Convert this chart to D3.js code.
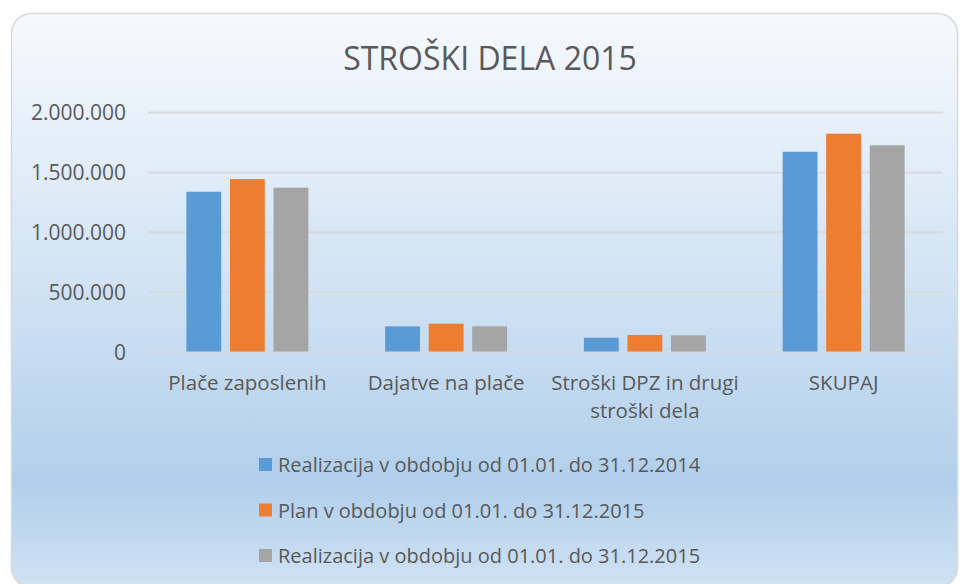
<!DOCTYPE html>
<html>
<head>
<meta charset="utf-8">
<script src="https://cdn.jsdelivr.net/npm/d3@7"></script>
<style>
  body { margin: 0; background: #fff; }
  text { font-family: "Open Sans", sans-serif; fill: #595959; }
</style>
</head>
<body>
<svg id="chart" width="960" height="584"></svg>
<script>
var categories = [["Plače zaposlenih"], ["Dajatve na plače"], ["Stroški DPZ in drugi", "stroški dela"], ["SKUPAJ"]];
var seriesNames = [
    "Realizacija v obdobju od 01.01. do 31.12.2014",
    "Plan v obdobju od 01.01. do 31.12.2015",
    "Realizacija v obdobju od 01.01. do 31.12.2015"
];
var real2014 = [1334000, 210000, 115000, 1668000];
var plan2015 = [1440000, 232000, 138000, 1819000];
var real2015 = [1368000, 210000, 135000, 1722000];
var yTicks = [0, 500000, 1000000, 1500000, 2000000];
var colors = ["#5B9BD5", "#ED7D31", "#A5A5A5"];

var series = [real2014, plan2015, real2015];

var svg = d3.select("#chart");

var defs = svg.append("defs");
var grad = defs.append("linearGradient")
        .attr("id", "bg")
        .attr("x1", 0).attr("y1", 0)
        .attr("x2", 0).attr("y2", 1);
grad.append("stop").attr("offset", "0%").attr("stop-color", "#f6f9fd");
grad.append("stop").attr("offset", "45%").attr("stop-color", "#d3e4f4");
grad.append("stop").attr("offset", "82%").attr("stop-color", "#b1cfeb");
grad.append("stop").attr("offset", "100%").attr("stop-color", "#d0e2f3");

svg.append("rect")
        .attr("x", 11.5)
        .attr("y", 13.5)
        .attr("width", 946)
        .attr("height", 574)
        .attr("rx", 20)
        .style("fill", "url(#bg)")
        .style("stroke", "#d9d9d9")
        .style("stroke-width", 1.5);

svg.append("text")
        .attr("x", 490)
        .attr("y", 70)
        .attr("text-anchor", "middle")
        .style("font-size", "32px")
        .text("STROŠKI DELA 2015");

var x0 = d3.scaleBand()
        .domain(d3.range(categories.length))
        .range([148, 943]);

var x1 = d3.scaleBand()
        .domain(d3.range(series.length))
        .range([0, 122])
        .paddingInner(0.2);

var y = d3.scaleLinear()
        .domain([0, 2000000])
        .range([351.5, 112]);

var fmt = d3.formatLocale({decimal: ",", thousands: ".", grouping: [3], currency: ["", " €"]}).format(",d");

var yAxis = svg.append("g")
        .attr("transform", "translate(148,0)")
        .call(d3.axisLeft(y).tickValues(yTicks).tickSize(-795).tickFormat(fmt));
yAxis.select(".domain").remove();
yAxis.selectAll("line")
        .style("stroke", "#d9d9d9")
        .style("stroke-width", 2);
yAxis.selectAll("text")
        .attr("x", -22)
        .attr("dy", "0.36em")
        .style("font-size", "21px")
        .style("fill", "#595959")
        .style("font-family", "'Open Sans', sans-serif");

var groups = svg.selectAll(".grp")
        .data(categories)
        .enter().append("g")
        .attr("class", "grp")
        .attr("transform", function(d, i){
            return "translate(" + (x0(i) + x0.bandwidth() / 2 - 61) + ",0)";
        });

groups.selectAll("rect")
        .data(function(d, i){
            return series.map(function(s, k){ return {k: k, v: s[i]}; });
        })
        .enter().append("rect")
        .attr("x", function(d){ return x1(d.k); })
        .attr("y", function(d){ return y(d.v); })
        .attr("width", x1.bandwidth())
        .attr("height", function(d){ return y(0) - y(d.v); })
        .style("fill", function(d){ return colors[d.k]; });

groups.each(function(d, i){
    var t = d3.select(this).append("text")
            .attr("x", 61)
            .attr("y", 390)
            .attr("text-anchor", "middle")
            .style("font-size", "20.5px");
    d.forEach(function(line, j){
        t.append("tspan")
                .attr("x", 61)
                .attr("dy", j === 0 ? 0 : 28)
                .text(line);
    });
});

var legend = svg.selectAll(".leg")
        .data(seriesNames)
        .enter().append("g")
        .attr("class", "leg")
        .attr("transform", function(d, i){
            return "translate(259," + (472 + i * 45.5) + ")";
        });
legend.append("rect")
        .attr("x", 0)
        .attr("y", -14)
        .attr("width", 13)
        .attr("height", 13)
        .style("fill", function(d, i){ return colors[i]; });
legend.append("text")
        .attr("x", 19)
        .attr("y", 0)
        .style("font-size", "20px")
        .text(function(d){ return d; });
</script>
</body>
</html>
